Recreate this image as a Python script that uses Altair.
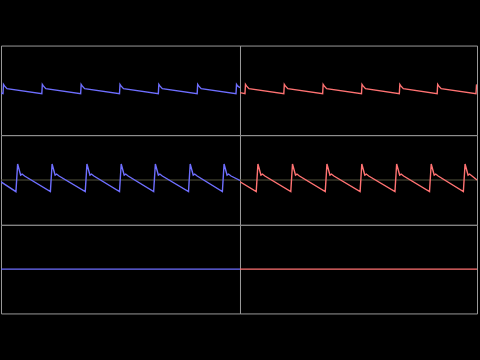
import altair as alt
import pandas as pd

# ---- data (panel-local time, amplitude in [-1, 1]) ----
# top row
top_left_t = [0, 2, 2.5, 3.5, 6,
              41, 41.5, 42.5, 45,
              80, 80.5, 81.5, 84,
              119, 119.5, 120.5, 123,
              158, 158.5, 159.5, 162,
              197, 197.5, 198.5, 201,
              236, 236.5, 237.5, 240]
top_left_v = [-0.06, -0.073, 0.133, 0.10, 0.038,
              -0.073, 0.133, 0.10, 0.038,
              -0.073, 0.133, 0.10, 0.038,
              -0.073, 0.133, 0.10, 0.038,
              -0.073, 0.133, 0.10, 0.038,
              -0.073, 0.133, 0.10, 0.038,
              -0.073, 0.133, 0.10, 0.06]
top_right_t = [0, 5, 5.5, 6.5, 9,
               44, 44.5, 45.5, 48,
               83, 83.5, 84.5, 87,
               122, 122.5, 123.5, 126,
               160, 160.5, 161.5, 164,
               198, 198.5, 199.5, 202,
               237, 237.5, 238]
top_right_v = [-0.05, -0.073, 0.133, 0.10, 0.038,
               -0.073, 0.133, 0.10, 0.038,
               -0.073, 0.133, 0.10, 0.038,
               -0.073, 0.133, 0.10, 0.038,
               -0.073, 0.133, 0.10, 0.038,
               -0.073, 0.133, 0.10, 0.038,
               -0.073, 0.133, 0.10]

# middle row
mid_left_t = [0, 15, 16.7, 19.7, 21.2, 23.7,
              49.6, 51.3, 54.3, 55.8, 58.3,
              84.6, 86.3, 89.3, 90.8, 93.3,
              119, 120.7, 123.7, 125.2, 127.7,
              153.3, 155, 158, 159.5, 162,
              188.3, 190, 193, 194.5, 197,
              222.3, 224, 227, 228.5, 231,
              240]
mid_left_v = [-0.04, -0.26, 0.356, 0.111, 0.133, 0.089,
              -0.26, 0.356, 0.111, 0.133, 0.089,
              -0.26, 0.356, 0.111, 0.133, 0.089,
              -0.26, 0.356, 0.111, 0.133, 0.089,
              -0.26, 0.356, 0.111, 0.133, 0.089,
              -0.26, 0.356, 0.111, 0.133, 0.089,
              -0.26, 0.356, 0.111, 0.133, 0.089,
              -0.01]
mid_right_t = [0, 16.3, 18, 21, 22.5, 25,
               51, 52.7, 55.7, 57.2, 59.7,
               85.6, 87.3, 90.3, 91.8, 94.3,
               120.6, 122.3, 125.3, 126.8, 129.3,
               155.6, 157.3, 160.3, 161.8, 164.3,
               190.3, 192, 195, 196.5, 199,
               224.3, 226, 229, 230.5, 233,
               238]
mid_right_v = [-0.04, -0.26, 0.356, 0.111, 0.133, 0.089,
               -0.26, 0.356, 0.111, 0.133, 0.089,
               -0.26, 0.356, 0.111, 0.133, 0.089,
               -0.26, 0.356, 0.111, 0.133, 0.089,
               -0.26, 0.356, 0.111, 0.133, 0.089,
               -0.26, 0.356, 0.111, 0.133, 0.089,
               -0.26, 0.356, 0.111, 0.133, 0.089,
               0.0]

# bottom row (silent)
bot_left_t = [0, 240]
bot_left_v = [0, 0]
bot_right_t = [0, 238]
bot_right_v = [0, 0]

BLUE = "#6e6eff"
RED = "#ff7272"
MIDLINE = "#55553f"


def panel(ts, vs, color, width, height, tmax, midline=False):
    df = pd.DataFrame({"t": ts, "v": vs})
    x = alt.X("t:Q", scale=alt.Scale(domain=[0, tmax], nice=False, zero=False), axis=None)
    y = alt.Y("v:Q", scale=alt.Scale(domain=[-1, 1], nice=False, zero=False), axis=None)
    line = alt.Chart(df).mark_line(color=color, strokeWidth=1.4, clip=True).encode(x=x, y=y)
    layers = []
    if midline:
        rule = alt.Chart(pd.DataFrame({"v": [0]})).mark_rule(
            color=MIDLINE, strokeWidth=1
        ).encode(y=alt.Y("v:Q", scale=alt.Scale(domain=[-1, 1], nice=False), axis=None))
        layers.append(rule)
    layers.append(line)
    return alt.layer(*layers).properties(width=width, height=height)


panels = [
    panel(top_left_t, top_left_v, BLUE, 240, 90, 240),
    panel(top_right_t, top_right_v, RED, 238, 90, 238),
    panel(mid_left_t, mid_left_v, BLUE, 240, 90, 240, midline=True),
    panel(mid_right_t, mid_right_v, RED, 238, 90, 238, midline=True),
    panel(bot_left_t, bot_left_v, BLUE, 240, 89, 240),
    panel(bot_right_t, bot_right_v, RED, 238, 89, 238),
]

chart = (
    alt.concat(*panels, columns=2, spacing=0, bounds="flush")
    .properties(
        background="black",
        padding={"left": 0, "top": 44, "right": 2, "bottom": 47},
    )
    .configure_view(stroke="#9a9a9a", strokeWidth=1, fill="black")
    .configure_concat(spacing=0)
)

chart.save("out.html", embed_options={"renderer": "svg", "actions": False})
